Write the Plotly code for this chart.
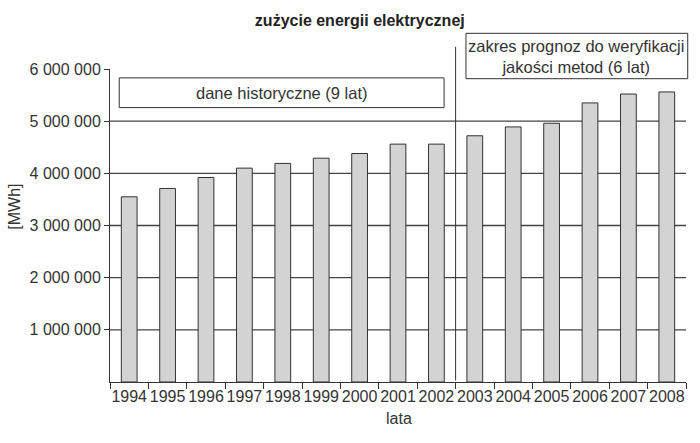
import plotly.graph_objects as go

# lata i zuzycie energii [MWh]
years = ["1994", "1995", "1996", "1997", "1998", "1999", "2000", "2001",
         "2002", "2003", "2004", "2005", "2006", "2007", "2008"]
consumption = [3550000, 3710000, 3920000, 4100000, 4190000, 4290000, 4380000,
               4560000, 4560000, 4720000, 4890000, 4960000, 5350000, 5520000,
               5560000]
y_ticks = [1000000, 2000000, 3000000, 4000000, 5000000, 6000000]
y_labels = ["1 000 000", "2 000 000", "3 000 000", "4 000 000", "5 000 000",
            "6 000 000"]

FONT = "Liberation Sans, Arial, sans-serif"
INK = "#333333"

fig = go.Figure()
fig.add_trace(go.Bar(
    x=years, y=consumption, width=0.41,
    marker=dict(color="#d3d3d3", line=dict(color=INK, width=1)),
))

# gridlines 1M..5M behind bars (no line at the top)
for v in y_ticks[:-1]:
    fig.add_shape(type="line", xref="paper", yref="y", x0=0, x1=1, y0=v, y1=v,
                  line=dict(color="#444444", width=1.3), layer="below")

split = years.index("2003") - 0.5
fig.add_shape(type="line", xref="x", yref="paper", x0=split, x1=split,
              y0=0.005, y1=1.071, line=dict(color=INK, width=1))

# ramka: dane historyczne
fig.add_shape(type="rect", xref="x", yref="y", x0=-0.26, x1=8.2,
              y0=5260000, y1=5830000, line=dict(color=INK, width=1),
              fillcolor="white")
fig.add_annotation(x=3.97, y=5545000, xref="x", yref="y",
                   text="dane historyczne (9 lat)", showarrow=False,
                   font=dict(family=FONT, size=16.5, color=INK))

# ramka: zakres prognoz
fig.add_shape(type="rect", xref="paper", yref="paper", x0=0.618, x1=1.003,
              y0=0.969, y1=1.114, line=dict(color=INK, width=1),
              fillcolor="white")
fig.add_annotation(x=11.64, y=1.041, xref="x", yref="paper", yanchor="middle",
                   text="zakres prognoz do weryfikacji<br>jakości metod (6 lat)",
                   showarrow=False,
                   font=dict(family=FONT, size=16.5, color=INK))

# os y: opis
fig.add_annotation(x=-0.165, y=0.56, xref="paper", yref="paper",
                   xanchor="center", yanchor="middle",
                   text="[MWh]", textangle=-90, showarrow=False,
                   font=dict(family=FONT, size=16, color=INK))
# os x: opis
fig.add_annotation(x=0.501, y=-0.118, xref="paper", yref="paper",
                   text="lata", showarrow=False, yanchor="middle",
                   font=dict(family=FONT, size=16, color=INK))

fig.update_layout(
    width=700, height=443,
    margin=dict(l=110, r=14, t=69, b=61, autoexpand=False),
    paper_bgcolor="white", plot_bgcolor="white",
    showlegend=False,
    title=dict(text="<b>zużycie energii elektrycznej</b>", x=0.514, y=0.955,
               xanchor="center", yanchor="middle",
               font=dict(family=FONT, size=16, color="#222")),
    font=dict(family=FONT, color=INK),
)
fig.update_xaxes(
    type="category", range=[-0.5, 14.5], tickson="boundaries", tickangle=0,
    ticks="outside", ticklen=6, tickcolor=INK, showline=True, linecolor=INK,
    linewidth=1, showgrid=False, tickfont=dict(size=16, color=INK),
    automargin=False,
)
fig.update_yaxes(
    range=[0, 6000000], tickvals=y_ticks, ticktext=y_labels,
    ticks="outside", ticklen=5, tickcolor=INK, showline=True, linecolor=INK,
    linewidth=1, showgrid=False, zeroline=False, automargin=False,
    tickfont=dict(size=16, color=INK),
)

fig.write_html("out.html", config={"displayModeBar": False},
               post_script="document.body.style.margin='0';")
